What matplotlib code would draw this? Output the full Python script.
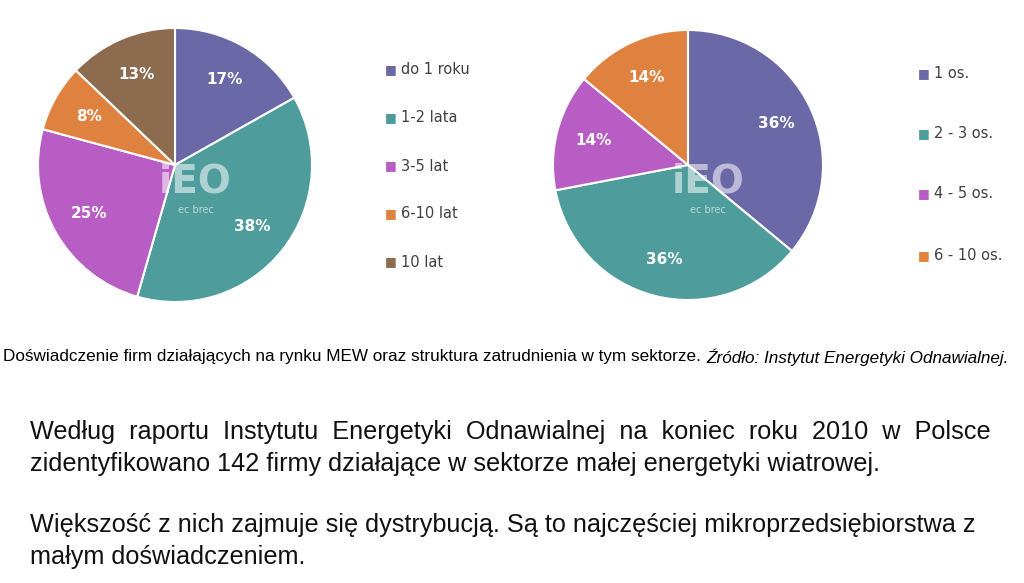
import matplotlib
matplotlib.use("Agg")
import matplotlib.pyplot as plt
import numpy as np

W, H = 1024, 583
labels1 = ["do 1 roku", "1-2 lata", "3-5 lat", "6-10 lat", "10 lat"]
values1 = [17, 38, 25, 8, 13]
labels2 = ["1 os.", "2 - 3 os.", "4 - 5 os.", "6 - 10 os."]
values2 = [36, 36, 14, 14]
colors = ["#6B68A8", "#4E9C9C", "#B75DC3", "#E0823F", "#8C6B4E"]

fig = plt.figure(figsize=(W/100, H/100), dpi=100)
fig.patch.set_facecolor("white")

def px_ax(cx, cy, r):
    return fig.add_axes([(cx-r)/W, (H-cy-r)/H, 2*r/W, 2*r/H])

def draw(cx, cy, r, vals, cols):
    ax = px_ax(cx, cy, r)
    ax.pie(vals, colors=cols, startangle=90, counterclock=False,
           wedgeprops=dict(edgecolor="white", linewidth=1.5), radius=1, frame=False)
    tot = sum(vals)
    a = 90.0
    for v in vals:
        mid = np.deg2rad(a - v/tot*180)
        a -= v/tot*360
        ax.text(0.72*np.cos(mid), 0.72*np.sin(mid), f"{v}%", ha="center", va="center",
                color="white", fontsize=11, fontweight="bold")
    ax.set_xlim(-1, 1); ax.set_ylim(-1, 1)
    ax.set_aspect("equal"); ax.axis("off")
    ax.text(0.15, -0.12, "iEO", ha="center", va="center", fontsize=28,
            fontweight="bold", color="white", alpha=0.55)
    ax.text(0.15, -0.33, "ec brec", ha="center", va="center", fontsize=7,
            color="white", alpha=0.6)

draw(175, 165, 137, values1, colors)
draw(688, 165, 135, values2, colors[:4])

def legend(x, ys, labs, cols):
    for y, l, c in zip(ys, labs, cols):
        fig.text(x/W, 1-y/H, "\u25A0", color=c, fontsize=9, va="center")
        fig.text((x+16)/W, 1-y/H, l, color="#404040", fontsize=10.5, va="center")

legend(385, [70, 118, 166, 214, 262], labels1, colors)
legend(918, [74, 134, 194, 256], labels2, colors)

t1 = fig.text(3/W, 1-357/H, "Doświadczenie firm działających na rynku MEW oraz struktura zatrudnienia w tym sektorze.",
              fontsize=12.3, va="center", family="Liberation Sans")
fig.canvas.draw()
bb = t1.get_window_extent()
fig.text((bb.x1 + 5)/W, 1-357/H, "Źródło: Instytut Energetyki Odnawialnej.", fontsize=12.3,
         va="center", style="italic", family="Liberation Sans")

t = dict(fontsize=18.2, va="center", family="Liberation Sans", color="#111111")
fig.text(30/W, 1-432/H, "Według  raportu  Instytutu  Energetyki  Odnawialnej  na  koniec  roku  2010  w  Polsce", **t)
fig.text(30/W, 1-464/H, "zidentyfikowano 142 firmy działające w sektorze małej energetyki wiatrowej.", **t)
fig.text(30/W, 1-525/H, "Większość z nich zajmuje się dystrybucją. Są to najczęściej mikroprzedsiębiorstwa z", **t)
fig.text(30/W, 1-557/H, "małym doświadczeniem.", **t)

fig.savefig("out.png", dpi=100)
